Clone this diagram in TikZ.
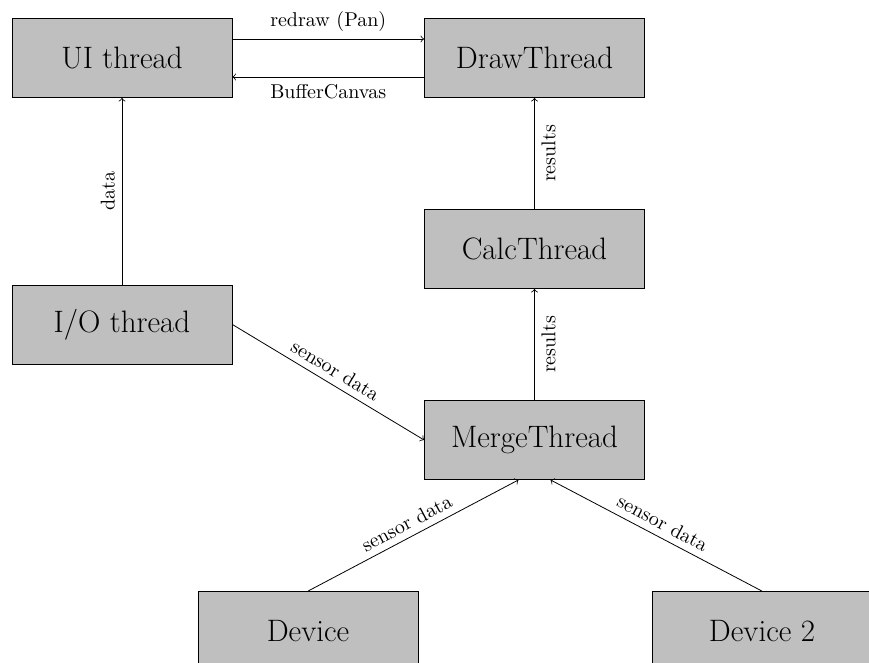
\documentclass[tikz,border=0pt]{standalone}
\begin{document}
\begin{tikzpicture}[x=0.5pt, y=-0.5pt,
  thread/.style={draw = black, fill = lightgray, minimum width = 110pt, minimum height = 39.5pt, inner sep = 0pt, font = \fontsize{15.5}{18}\selectfont},
  msg/.style={font = \normalsize, sloped}]
\pgfmathsetlengthmacro\lane{9.5pt};
\pgfmathsetlengthmacro\fan{8pt};
\useasboundingbox (0,0) rectangle (869,663);
\clip (0,0) rectangle (869,663);
% threads
\node[thread] (ui) at (122,58) {UI thread};
\node[thread] (drawthr) at (534.5,58) {DrawThread};
\node[thread] (calc) at (534.5,249) {CalcThread};
\node[thread] (io) at (122,324.5) {I/O thread};
\node[thread] (merge) at (534.5,440) {MergeThread};
\node[thread] (dev) at (308,631) {Device};
\node[thread] (devb) at (762,631) {Device 2};
% messages
\draw[->] ([yshift = \lane]ui.east) -- node[msg, above] {redraw (Pan)} ([yshift = \lane]drawthr.west);
\draw[->] ([yshift = -\lane]drawthr.west) -- node[msg, below] {BufferCanvas} ([yshift = -\lane]ui.west -| ui.east);
\draw[->] (io) -- node[msg, above] {data} (ui);
\draw[->] (calc) -- node[msg, below] {results} (drawthr);
\draw[->] (merge) -- node[msg, below] {results} (calc);
\draw[->] (io.east) -- node[msg, above] {sensor data} (merge.west);
\draw[->] (dev.north) -- node[msg, above] {sensor data} ([xshift = -\fan]merge.south);
\draw[->] (devb.north) -- node[msg, above] {sensor data} ([xshift = \fan]merge.south);
\end{tikzpicture}
\end{document}
